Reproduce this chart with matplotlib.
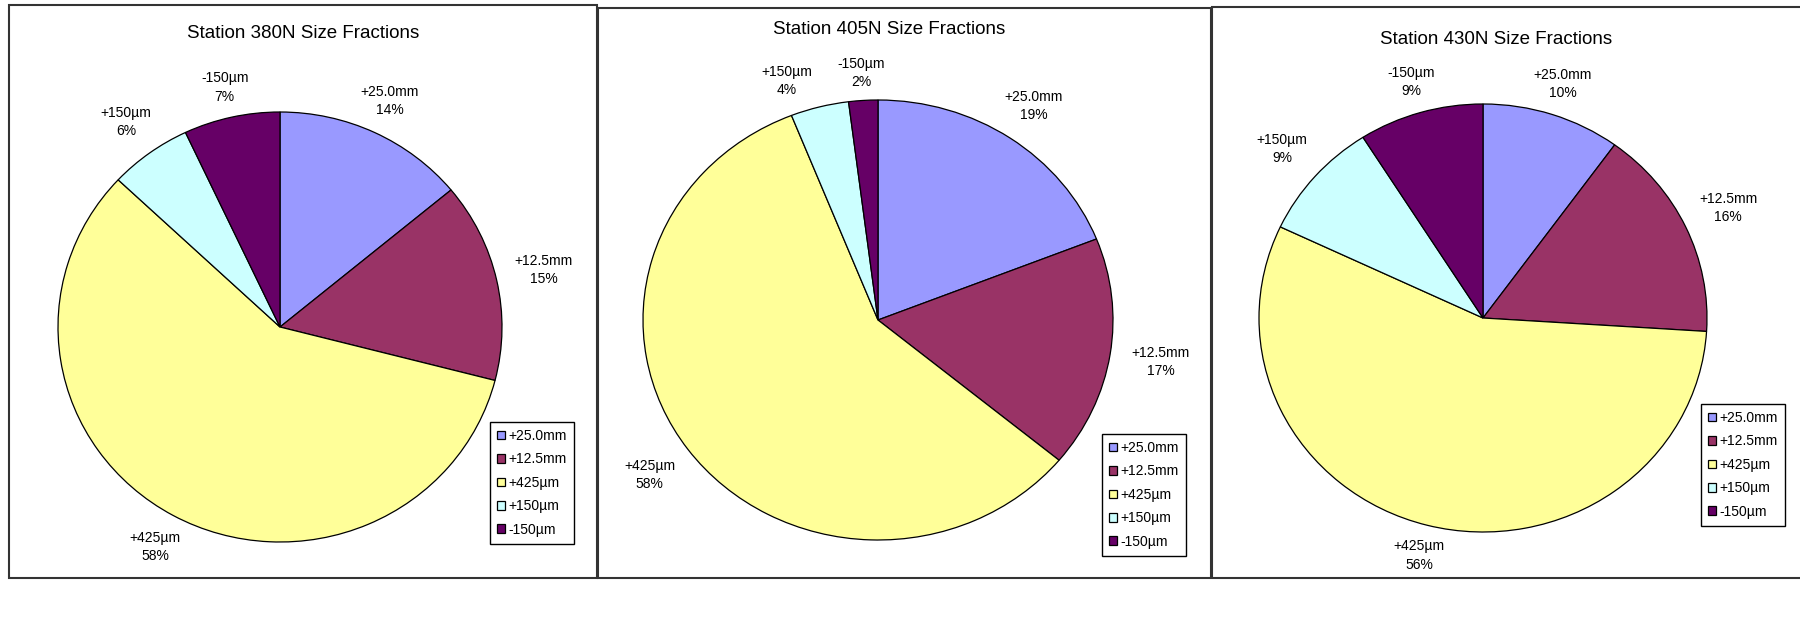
import numpy as np
import matplotlib.pyplot as plt
from matplotlib.patches import Rectangle

plt.rcParams['font.family'] = ['Liberation Sans', 'DejaVu Sans']

fractions = ["+25.0mm", "+12.5mm", "+425µm", "+150µm", "-150µm"]
stations = ["380N", "405N", "430N"]
pct_380n = [14, 15, 58, 6, 7]
pct_405n = [19, 17, 58, 4, 2]
pct_430n = [10, 16, 56, 9, 9]
fill_colors = ["#9999FF", "#993366", "#FFFF99", "#CCFFFF", "#660066"]

W, H = 1800, 629


def fx(x):
    return x / W


def fy(y):
    return 1 - y / H


# layout in pixels: frame box, pie centre and radii, title centre, legend top-left
panels = [
    dict(box=(9, 5, 597, 578), centre=(280, 327), radii=(222, 215),
         title=(303, 33), legend=(490, 422)),
    dict(box=(598, 8, 1211, 578), centre=(878, 320), radii=(235, 220),
         title=(889, 29), legend=(1102, 434)),
    dict(box=(1212, 7, 1806, 578), centre=(1483, 318), radii=(224, 214),
         title=(1496, 40), legend=(1701, 404)),
]

fig = plt.figure(figsize=(18, 6.29), dpi=100)

for station, values, p in zip(stations, [pct_380n, pct_405n, pct_430n], panels):
    x0, y0, x1, y1 = p['box']
    fig.add_artist(Rectangle((fx(x0), fy(y1)), (x1 - x0) / W, (y1 - y0) / H,
                             transform=fig.transFigure, fill=False,
                             lw=1.5, edgecolor='#333333'))

    cx, cy = p['centre']
    rx, ry = p['radii']
    ax = fig.add_axes([fx(cx - rx), fy(cy + ry), 2 * rx / W, 2 * ry / H])
    wedges, _ = ax.pie(values, colors=fill_colors,
                       startangle=90, counterclock=False,
                       wedgeprops=dict(edgecolor='black', linewidth=0.9))
    for w in wedges:
        w.set_clip_on(False)
    ax.set_aspect('auto')
    ax.set_xlim(-1, 1)
    ax.set_ylim(-1, 1)

    # label angles at wedge middles; spread out labels of thin neighbouring wedges
    mids = [(w.theta1 + w.theta2) / 2 for w in wedges]
    for i in range(len(mids) - 2, -1, -1):
        if 0 < mids[i] - mids[i + 1] < 16:
            mids[i] = mids[i + 1] + 16

    # data labels: name + percent, pushed out further at the sides than at top/bottom
    for m, name, v in zip(mids, fractions, values):
        a = np.deg2rad(m)
        dist = 1.12 + 0.1 * abs(np.cos(a))
        ax.text(dist * np.cos(a), dist * np.sin(a), f"{name}\n{v}%",
                ha='center', va='center', fontsize=10, linespacing=1.4,
                clip_on=False)

    tx, ty = p['title']
    fig.text(fx(tx), fy(ty), f"Station {station} Size Fractions",
             ha='center', va='center', fontsize=13.5)

    lx, ly = p['legend']
    leg = fig.legend(wedges, fractions, loc='upper left',
                     bbox_to_anchor=(fx(lx), fy(ly)), fontsize=10,
                     fancybox=False, framealpha=1, edgecolor='black',
                     handlelength=0.6, handleheight=0.6, handletextpad=0.25,
                     labelspacing=0.68, borderpad=0.5, borderaxespad=0)
    leg.get_frame().set_linewidth(1.0)

fig.savefig("out.png", dpi=100, facecolor='white')
